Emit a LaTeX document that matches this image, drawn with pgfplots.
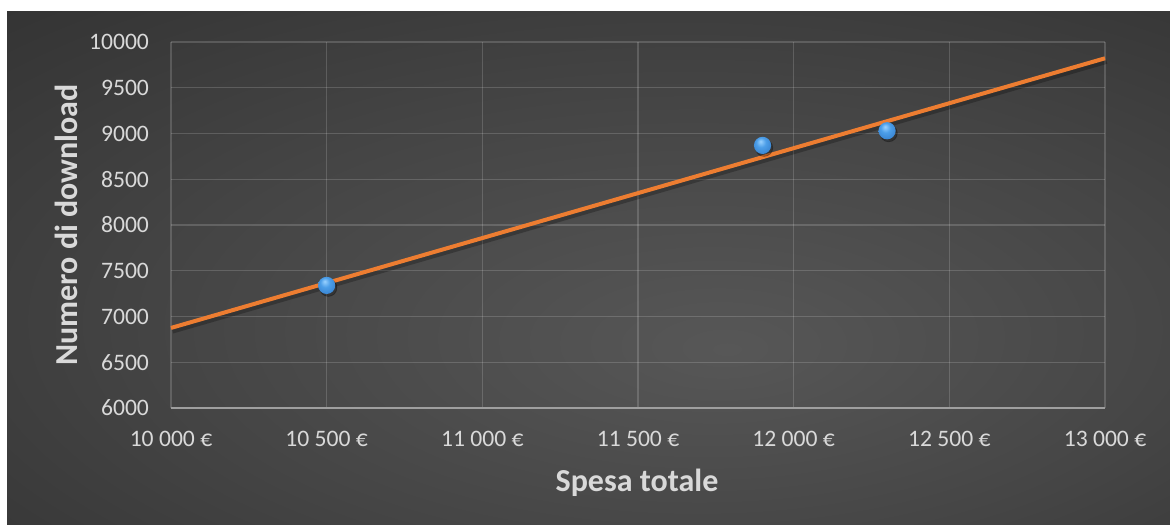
\documentclass[border=0pt]{standalone}
\usepackage{fontspec}
\setmainfont{Carlito}
\usepackage{pgfplots}
\pgfplotsset{compat=1.18}
\definecolor{tickgray}{HTML}{D9D9D9}
\definecolor{trend}{HTML}{ED7D31}
\definecolor{ballhi}{HTML}{9AD2FF}
\definecolor{ballmid}{HTML}{4C9EE8}
\definecolor{balllow}{HTML}{3782CF}
\definecolor{balledge}{HTML}{2B68AE}
\definecolor{bgcA}{HTML}{575757}
\definecolor{bgcB}{HTML}{454545}
\definecolor{bgcC}{HTML}{242424}
\pgfdeclareradialshading{bgshade}{\pgfpoint{6bp}{-8bp}}{color(0bp)=(bgcA); color(22bp)=(bgcB); color(58bp)=(bgcC); color(80bp)=(bgcC)}
\pgfdeclareradialshading{sphereshade}{\pgfpoint{-6bp}{12bp}}{color(0bp)=(ballhi); color(14bp)=(ballmid); color(32bp)=(balllow); color(46bp)=(balledge); color(50bp)=(balledge)}
\pgfdeclareplotmark{sphere}{%
  \pgfpathcircle{\pgfpointorigin}{\pgfplotmarksize}%
  \pgfshadepath{sphereshade}{0}%
  \pgfusepath{discard}}
\begin{document}
\begin{tikzpicture}
\path[use as bounding box, fill=white] (0,0) rectangle (585pt,262pt);
\path[shading=bgshade] (3.5pt,0pt) rectangle (585pt,256pt);
\begin{axis}[
  at={(85.5pt,58pt)}, anchor=south west,
  scale only axis, width=467pt, height=183pt,
  xmin=10000, xmax=13000, ymin=6000, ymax=10000,
  scaled ticks=false,
  xtick={10000,10500,11000,11500,12000,12500,13000},
  xticklabels={10 000 €,10 500 €,11 000 €,11 500 €,12 000 €,12 500 €,13 000 €},
  ytick={6000,6500,7000,7500,8000,8500,9000,9500,10000},
  yticklabels={6000,6500,7000,7500,8000,8500,9000,9500,10000},
  /pgf/number format/assume math mode=true,
  axis x line=bottom, axis y line=left,
  x axis line style={-, draw=gray!75, line width=1pt},
  y axis line style={draw=none},
  major tick length=0pt,
  grid=major,
  grid style={draw=white, opacity=0.16, line width=0.6pt},
  ticklabel style={font=\fontsize{11.8}{14}\selectfont, text=tickgray},
  xticklabel style={yshift=-8pt},
  yticklabel style={xshift=-7.5pt},
  clip=false,
]
\addplot[only marks, mark=*, mark size=4.3pt, draw=none, opacity=0.28, xshift=0.8pt, yshift=-1.2pt,
  mark options={draw=none, fill=black}] coordinates {(10500,7340) (11900,8870) (12300,9030)};
\addplot[only marks, mark=sphere, mark size=4.3pt] coordinates {(10500,7340) (11900,8870) (12300,9030)};
\addplot[draw=black, opacity=0.25, line width=2.4pt, xshift=0.8pt, yshift=-1.6pt] coordinates {(10000,6875) (13000,9822)};
\addplot[draw=trend, line width=2pt] coordinates {(10000,6875) (13000,9822)};
\end{axis}
\node[font=\bfseries\fontsize{16}{19}\selectfont, text=tickgray, anchor=base] at (318.5pt,16.5pt) {Spesa totale};
\node[font=\bfseries\fontsize{16}{19}\selectfont, text=tickgray, rotate=90, anchor=center] at (33pt,149.5pt) {Numero di download};
\end{tikzpicture}
\end{document}
